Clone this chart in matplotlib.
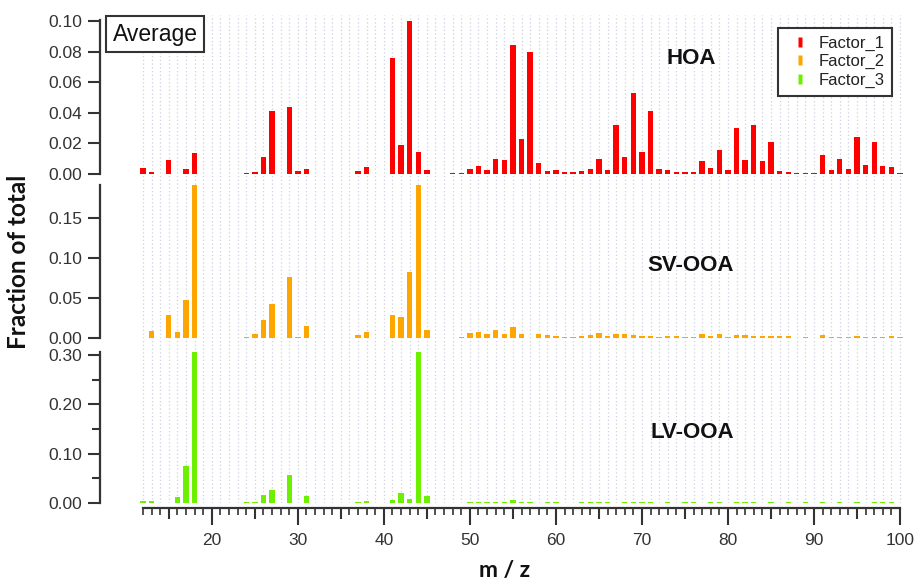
import matplotlib
matplotlib.use("Agg")
import matplotlib.pyplot as plt
from matplotlib.lines import Line2D
from matplotlib.ticker import FixedLocator, FuncFormatter

# ---------------- data ----------------
mz = list(range(12, 101))

factor_1 = [
    0.0041, 0.0015, 0, 0.009, 0.0003, 0.0033, 0.014, 0, 0, 0,            # 12-21
    0, 0, 0.0005, 0.0015, 0.011, 0.041, 0, 0.044, 0.002, 0.003,          # 22-31
    0, 0, 0, 0, 0, 0.002, 0.0045, 0, 0, 0.076,                           # 32-41
    0.0188, 0.100, 0.0143, 0.0026, 0, 0, 0.0005, 0.0005, 0.0033, 0.0054, # 42-51
    0.0025, 0.010, 0.0089, 0.0844, 0.023, 0.080, 0.0071, 0.0017, 0.0026, 0.0015,  # 52-61
    0.0015, 0.002, 0.003, 0.010, 0.0028, 0.032, 0.0108, 0.0532, 0.0143, 0.041,    # 62-71
    0.003, 0.0026, 0.0013, 0.0013, 0.0013, 0.0082, 0.0037, 0.0158, 0.0026, 0.030, # 72-81
    0.0089, 0.0318, 0.0087, 0.0208, 0.002, 0.0013, 0.0005, 0.0005, 0.0005, 0.0123,# 82-91
    0.0026, 0.0095, 0.0033, 0.024, 0.0058, 0.0208, 0.0052, 0.0048, 0.0005,        # 92-100
]

factor_2 = [
    0.0005, 0.0092, 0, 0.0288, 0.007, 0.0475, 0.191, 0, 0, 0,
    0, 0, 0.0017, 0.005, 0.022, 0.042, 0, 0.076, 0.0012, 0.0146,
    0, 0, 0, 0, 0, 0.0042, 0.007, 0, 0, 0.029,
    0.026, 0.083, 0.191, 0.0104, 0, 0, 0.0005, 0.0017, 0.006, 0.0075,
    0.0044, 0.0104, 0.0044, 0.014, 0.0044, 0.0005, 0.0046, 0.0033, 0.002, 0.0012,
    0.0012, 0.0025, 0.0037, 0.0058, 0.003, 0.005, 0.005, 0.0033, 0.0025, 0.0025,
    0.0012, 0.002, 0.002, 0.0012, 0.0017, 0.005, 0.0025, 0.0046, 0.0012, 0.0033,
    0.0033, 0.002, 0.002, 0.0025, 0.002, 0.002, 0.0005, 0.0017, 0.0005, 0.0042,
    0.0012, 0.0017, 0.0017, 0.002, 0.0017, 0.0017, 0.0012, 0.003, 0.0012,
]

factor_3 = [
    0.004, 0.0033, 0, 0.0005, 0.0113, 0.075, 0.306, 0, 0, 0,
    0, 0, 0.0013, 0.0027, 0.016, 0.027, 0, 0.056, 0.0005, 0.0133,
    0, 0, 0, 0, 0, 0.0027, 0.004, 0, 0, 0.0053,
    0.0207, 0.0087, 0.306, 0.0147, 0, 0, 0.0005, 0.0005, 0.0022, 0.0025,
    0.0025, 0.0025, 0.0025, 0.0055, 0.0013, 0.0013, 0.0007, 0.0013, 0.0013, 0.0005,
    0.0005, 0.002, 0.002, 0.002, 0.0013, 0.0007, 0.002, 0.002, 0.0013, 0.0013,
    0.0007, 0.0013, 0.0007, 0.0013, 0.0013, 0.0007, 0.0013, 0.0013, 0.0007, 0.0013,
    0.0013, 0.0013, 0.0007, 0.002, 0.0007, 0.002, 0.0007, 0.0013, 0.0007, 0.0013,
    0.0007, 0.0013, 0.0007, 0.0013, 0.0007, 0.0013, 0.0013, 0.0013, 0.0007,
]

series_names = ["Factor_1", "Factor_2", "Factor_3"]
panel_labels = ["HOA", "SV-OOA", "LV-OOA"]
colors = ["#ff0000", "#ffa500", "#6cf000"]
ylims = [0.1006, 0.191, 0.306]
yticks = [[0.00, 0.02, 0.04, 0.06, 0.08, 0.10],
          [0.00, 0.05, 0.10, 0.15],
          [0.00, 0.10, 0.20, 0.30]]
xtick_labels = [20, 30, 40, 50, 60, 70, 80, 90, 100]

# ---------------- layout ----------------
W, H = 917, 580
fig = plt.figure(figsize=(W / 100, H / 100), dpi=100)
tick_font = "Liberation Sans"
axis_col = "#333333"

left_px, right_px = 100, 905
xlim = (12 - 43 / 8.6, 100 + 5 / 8.6)
panels_px = [(20, 174), (185, 338), (352, 503)]  # (top, bottom) in pixels
label_pos_px = [(691, 58), (691, 266), (692, 432)]


def frac_rect(top, bottom):
    return [left_px / W, 1 - bottom / H, (right_px - left_px) / W, (bottom - top) / H]


# background grid (dotted vertical lines at every m/z)
axbg = fig.add_axes(frac_rect(15, 503), zorder=0)
axbg.set_xlim(*xlim)
axbg.set_ylim(0, 1)
axbg.vlines(mz, 0, 1, colors="#cdd0e2", linestyles=(0, (1, 2)), linewidth=0.9)
axbg.axis("off")

axes = []
for i, (top, bottom) in enumerate(panels_px):
    ax = fig.add_axes(frac_rect(top, bottom), zorder=2)
    ax.patch.set_alpha(0)
    ax.bar(mz, [factor_1, factor_2, factor_3][i], width=0.62, color=colors[i],
           edgecolor="none", zorder=3, label=series_names[i])
    ax.set_xlim(*xlim)
    ax.set_ylim(0, ylims[i])
    for s in ["top", "right", "bottom"]:
        ax.spines[s].set_visible(False)
    ax.spines["left"].set_color(axis_col)
    ax.spines["left"].set_linewidth(1.6)
    ax.spines["left"].set_bounds(0, ylims[i])
    ax.set_yticks(yticks[i])
    ax.yaxis.set_major_formatter(FuncFormatter(lambda v, p: f"{v:.2f}"))
    ax.tick_params(axis="y", direction="out", length=9, width=1.5, color=axis_col,
                   labelsize=12.5, labelcolor=axis_col, pad=4)
    for lab in ax.get_yticklabels():
        lab.set_fontfamily(tick_font)
    ax.tick_params(axis="x", bottom=False, labelbottom=False)
    lx, ly = label_pos_px[i]
    fig.text(lx / W, 1 - ly / H, panel_labels[i],
             fontsize=16, fontweight="bold", fontfamily="Liberation Sans",
             color="#111111", ha="center", va="center", zorder=5)
    axes.append(ax)

# bottom panel details
axb = axes[2]
axb.yaxis.set_minor_locator(FixedLocator([0.05, 0.15, 0.25]))
axb.tick_params(axis="y", which="minor", direction="out", length=6, width=1.5, color=axis_col)
axb.spines["bottom"].set_visible(True)
axb.spines["bottom"].set_color(axis_col)
axb.spines["bottom"].set_linewidth(1.6)
axb.spines["bottom"].set_position(("outward", 3.6))
axb.spines["bottom"].set_bounds(12, 100)
five_ticks = list(range(15, 101, 5))
axb.xaxis.set_major_locator(FixedLocator(five_ticks))
axb.xaxis.set_minor_locator(FixedLocator([m for m in mz if m % 5 != 0]))
axb.xaxis.set_major_formatter(FuncFormatter(
    lambda v, p: f"{int(round(v))}" if int(round(v)) in xtick_labels else ""))
axb.tick_params(axis="x", which="major", bottom=True, labelbottom=True, direction="out",
                length=12, width=1.5, color=axis_col, labelsize=12.5, labelcolor=axis_col, pad=6)
axb.tick_params(axis="x", which="minor", bottom=True, direction="out", length=5,
                width=1.2, color=axis_col)
for lab in axb.get_xticklabels():
    lab.set_fontfamily(tick_font)
fig.canvas.draw()
for tk in axb.xaxis.get_major_ticks():
    if int(round(tk.get_loc())) % 10 != 0:
        tk.tick1line.set_markersize(8)

# axis titles
fig.text(19 / W, 1 - 262 / H, "Fraction of total", rotation=90, fontsize=17.5,
         fontweight="bold", fontfamily="Lato", color="#111111", ha="center", va="center")
fig.text(505 / W, 1 - 571 / H, "m / z", fontsize=16.5, fontweight="bold",
         fontfamily="Lato", color="#111111", ha="center", va="center")

# "Average" box
fig.text(155 / W, 1 - 34 / H, "Average", fontsize=16.5, fontfamily=tick_font, color="#111111",
         ha="center", va="center",
         bbox=dict(boxstyle="square,pad=0.27", facecolor="white", edgecolor=axis_col, linewidth=1.5),
         zorder=10)

# legend
rect = [(-0.2, -0.5), (0.2, -0.5), (0.2, 0.5), (-0.2, 0.5)]
handles = [Line2D([], [], linestyle="none", marker=rect, markersize=7.2,
                  markerfacecolor=c, markeredgecolor="none") for c in colors]
leg = fig.legend(handles, series_names, loc="upper right",
                 bbox_to_anchor=(892 / W, 1 - 28 / H), bbox_transform=fig.transFigure,
                 fancybox=False, framealpha=1, edgecolor=axis_col,
                 prop={"family": tick_font, "size": 12}, handlelength=1.8,
                 handletextpad=0.2, labelspacing=0.22, borderpad=0.45, borderaxespad=0)
leg.get_frame().set_linewidth(1.5)
for t in leg.get_texts():
    t.set_color("#222222")

fig.savefig("out.png", dpi=100)
